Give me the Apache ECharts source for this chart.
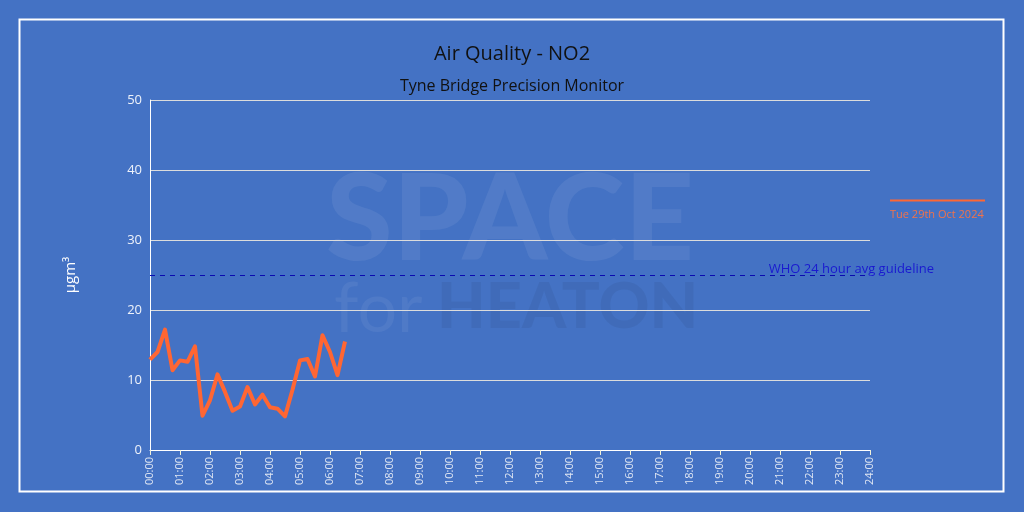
<!DOCTYPE html>
<html>
<head>
<meta charset="utf-8">
<script src="https://cdn.jsdelivr.net/npm/echarts@6/dist/echarts.min.js"></script>
<style>
html,body{margin:0;padding:0;background:#4472c4;}
#c{width:1024px;height:512px;}
</style>
</head>
<body>
<div id="c"></div>
<script>
const times = ["00:00","00:15","00:30","00:45","01:00","01:15","01:30","01:45","02:00","02:15","02:30","02:45","03:00","03:15","03:30","03:45","04:00","04:15","04:30","04:45","05:00","05:15","05:30","05:45","06:00","06:15","06:30"];
const no2 = [12.9,14.0,17.2,11.4,12.8,12.6,14.8,4.9,7.1,10.8,8.3,5.6,6.2,9.0,6.5,7.9,6.1,5.9,4.8,8.6,12.8,13.0,10.5,16.4,14.0,10.7,15.5];
const seriesName = "Tue 29th Oct 2024";
const whoGuideline = 25;
const whoLabel = "WHO 24 hour avg guideline";
const titleText = "Air Quality - NO2";
const subtitleText = "Tyne Bridge Precision Monitor";
const yAxisName = "µgm³";

function toHours(t){const p=t.split(":");return +p[0] + (+p[1])/60;}
const points = times.map((t,i)=>[toHours(t), no2[i]]);
function fmtHour(v){return (v<10?"0":"")+Math.round(v)+":00";}

const chart = echarts.init(document.getElementById('c'), null, {renderer:'canvas'});
chart.setOption({
  backgroundColor:'#4472c4',
  animation:false,
  textStyle:{fontFamily:'Open Sans'},
  title:[
    {text:titleText,left:'center',top:39,textStyle:{fontSize:20,fontWeight:'normal',color:'#111',fontFamily:'Open Sans'}},
    {text:subtitleText,left:'center',top:73,textStyle:{fontSize:16,fontWeight:'normal',color:'#111',fontFamily:'Open Sans'}}
  ],
  grid:{left:150,right:154,top:100,bottom:62,containLabel:false},
  xAxis:{
    type:'value',min:0,max:24,interval:1,
    axisLine:{show:true,lineStyle:{color:'#ffffff',width:1}},
    axisTick:{show:true,length:5,lineStyle:{color:'#f0f0d8'}},
    splitLine:{show:false},
    axisLabel:{rotate:90,fontSize:11,color:'#dfe6f3',margin:7,formatter:fmtHour,fontFamily:'Open Sans'}
  },
  yAxis:{
    type:'value',min:0,max:50,interval:10,
    name:yAxisName,nameLocation:'middle',nameGap:72,nameRotate:90,
    nameTextStyle:{color:'#ffffff',fontSize:15,fontFamily:'Open Sans'},
    axisLine:{show:true,lineStyle:{color:'#ffffff',width:1}},
    axisTick:{show:false},
    splitLine:{show:true,lineStyle:{color:'#dcdcdc',width:1}},
    axisLabel:{fontSize:13,color:'#eef2fa',margin:8,fontFamily:'Open Sans'}
  },
  graphic:[
    {type:'rect',shape:{x:19.5,y:19.5,width:984,height:472},style:{fill:null,stroke:'#ffffff',lineWidth:2},silent:true,z:-1},
    {type:'text',left:326,top:160,z:-1,silent:true,style:{text:'SPACE',font:'900 121px Lato',fill:'rgba(255,255,255,0.07)'}},
    {type:'text',left:334,top:274,z:-1,silent:true,style:{text:'for',font:'400 70px Lato',fill:'rgba(255,255,255,0.06)'}},
    {type:'text',left:437,top:276,z:-1,silent:true,style:{text:'HEATON',font:'900 63px Lato',fill:'rgba(0,0,0,0.055)'}},
    {type:'line',shape:{x1:890,y1:200.5,x2:985,y2:200.5},style:{stroke:'#ff6633',lineWidth:2},silent:true},
    {type:'text',left:890,top:209,silent:true,style:{text:seriesName,font:'11px Open Sans',fill:'#f2724a'}}
  ],
  series:[{
    name:seriesName,type:'line',data:points,showSymbol:false,
    lineStyle:{color:'#ff6633',width:4,join:'round'},
    itemStyle:{color:'#ff6633'},
    markLine:{
      silent:true,symbol:'none',
      lineStyle:{color:'#0a0ab0',type:[5,5],width:1},
      label:{show:true,position:'insideEndTop',formatter:whoLabel,color:'#1a1ad0',fontSize:13,fontFamily:'Open Sans',offset:[69,6]},
      data:[{yAxis:whoGuideline}]
    }
  }]
});
</script>
</body>
</html>
